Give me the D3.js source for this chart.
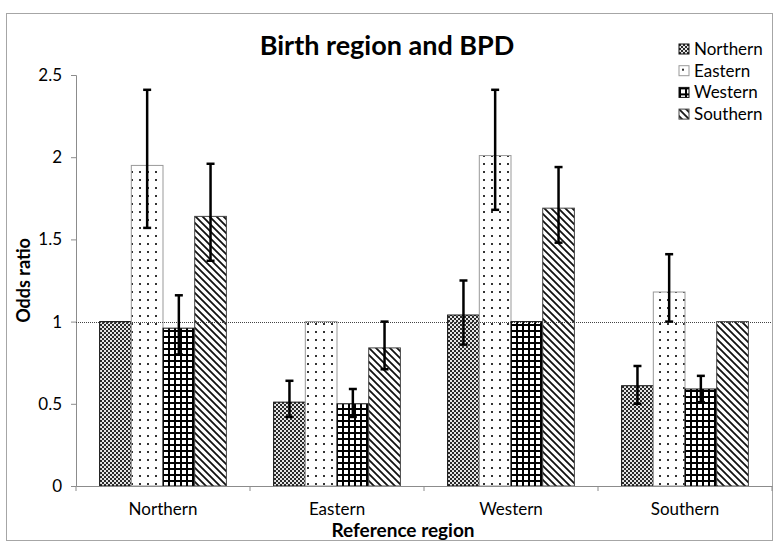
<!DOCTYPE html>
<html>
<head>
<meta charset="utf-8">
<title>Birth region and BPD</title>
<script src="https://d3js.org/d3.v7.min.js"></script>
<style>
  body { margin: 0; background: #fff; }
  text { font-family: Lato, "Open Sans", sans-serif; fill: #000; }
</style>
</head>
<body>
<div id="chart"></div>
<script>
// reference region on the x axis, birth region as the series
var categories = ["Northern", "Eastern", "Western", "Southern"];
var series = ["Northern", "Eastern", "Western", "Southern"];

// odds ratio per series, one value for each reference region
var oddsNorthern = [1.00, 0.51, 1.04, 0.61];
var oddsEastern  = [1.95, 1.00, 2.01, 1.18];
var oddsWestern  = [0.96, 0.50, 1.00, 0.59];
var oddsSouthern = [1.64, 0.84, 1.69, 1.00];

// confidence intervals (null = reference group, no bar)
var lowNorthern  = [null, 0.42, 0.86, 0.50];
var highNorthern = [null, 0.64, 1.25, 0.73];
var lowEastern   = [1.57, null, 1.68, 1.00];
var highEastern  = [2.41, null, 2.41, 1.41];
var lowWestern   = [0.80, 0.42, null, 0.51];
var highWestern  = [1.16, 0.59, null, 0.67];
var lowSouthern  = [1.37, 0.71, 1.48, null];
var highSouthern = [1.96, 1.00, 1.94, null];

var yTicks = [0, 0.5, 1, 1.5, 2, 2.5];

var odds = [oddsNorthern, oddsEastern, oddsWestern, oddsSouthern];
var lows = [lowNorthern, lowEastern, lowWestern, lowSouthern];
var highs = [highNorthern, highEastern, highWestern, highSouthern];

var rows = [];
categories.forEach(function(c, ci) {
    series.forEach(function(s, si) {
        rows.push({cat: c, ser: s, si: si, value: odds[si][ci], low: lows[si][ci], high: highs[si][ci]});
    });
});

var width = 775, height = 542;
var svg = d3.select("#chart").append("svg")
    .attr("width", width)
    .attr("height", height);

// patterns
var defs = svg.append("defs");

var p0 = defs.append("pattern").attr("id", "pat0").attr("patternUnits", "userSpaceOnUse")
    .attr("width", 4).attr("height", 4);
p0.append("rect").attr("width", 4).attr("height", 4).attr("fill", "#e6e6e6");
p0.append("rect").attr("width", 2).attr("height", 2).attr("fill", "#2a2a2a");
p0.append("rect").attr("x", 2).attr("y", 2).attr("width", 2).attr("height", 2).attr("fill", "#2a2a2a");

var p1 = defs.append("pattern").attr("id", "pat1").attr("patternUnits", "userSpaceOnUse")
    .attr("width", 8).attr("height", 8);
p1.append("rect").attr("width", 8).attr("height", 8).attr("fill", "#fff");
p1.append("rect").attr("x", 3).attr("y", 3).attr("width", 2).attr("height", 2).attr("fill", "#333");

var p2 = defs.append("pattern").attr("id", "pat2").attr("patternUnits", "userSpaceOnUse")
    .attr("width", 6).attr("height", 6);
p2.append("rect").attr("width", 6).attr("height", 6).attr("fill", "#fff");
p2.append("rect").attr("x", 0).attr("y", 0).attr("width", 2).attr("height", 6).attr("fill", "#000");
p2.append("rect").attr("x", 0).attr("y", 0).attr("width", 6).attr("height", 2).attr("fill", "#000");

var p3 = defs.append("pattern").attr("id", "pat3").attr("patternUnits", "userSpaceOnUse")
    .attr("width", 7).attr("height", 7);
p3.append("rect").attr("width", 7).attr("height", 7).attr("fill", "#fff");
p3.append("path").attr("d", "M-1,-1 L8,8 M-1,6 L1,8 M6,-1 L8,1")
    .attr("stroke", "#111").attr("stroke-width", 1.8);

var fills = ["url(#pat0)", "url(#pat1)", "url(#pat2)", "url(#pat3)"];
var borders = ["#111", "#999", "#111", "#444"];

// outer chart border
svg.append("rect")
    .attr("x", 6.5).attr("y", 13.5)
    .attr("width", 766).attr("height", 527)
    .attr("fill", "none").attr("stroke", "#a6a6a6");

var plotLeft = 76, plotRight = 772, plotTop = 75, plotBottom = 486;

var x0 = d3.scaleBand().domain(categories).range([plotLeft, plotRight]).paddingInner(0).paddingOuter(0);
var x1 = d3.scaleBand().domain(series).range([0, x0.bandwidth()]).paddingOuter(0.745).paddingInner(0);
var y = d3.scaleLinear().domain([0, 2.5]).range([plotBottom, plotTop]);

// bars
var bars = svg.append("g");
bars.selectAll("rect")
    .data(rows)
    .enter().append("rect")
    .attr("x", function(d) { return x0(d.cat) + x1(d.ser); })
    .attr("y", function(d) { return y(d.value); })
    .attr("width", x1.bandwidth())
    .attr("height", function(d) { return y(0) - y(d.value); })
    .attr("fill", function(d) { return fills[d.si]; })
    .attr("stroke", function(d) { return borders[d.si]; })
    .attr("stroke-width", 1);

// y axis
var yAxis = svg.append("g")
    .attr("transform", "translate(" + plotLeft + ",0)")
    .call(d3.axisLeft(y).tickValues(yTicks).tickSize(5).tickPadding(9)
        .tickFormat(function(d) { return String(d); }));
yAxis.select(".domain").attr("stroke", "#8c8c8c");
yAxis.selectAll(".tick line").attr("stroke", "#8c8c8c");
yAxis.selectAll("text").style("font-size", "17px").style("font-family", "Lato, sans-serif").attr("fill", "#000");

// x axis
var xAxis = svg.append("g")
    .attr("transform", "translate(0," + plotBottom + ")")
    .call(d3.axisBottom(x0).tickSize(0).tickPadding(17));
xAxis.select(".domain").attr("stroke", "#8c8c8c");
xAxis.selectAll("text").style("font-size", "17px").style("font-family", "Lato, sans-serif").attr("fill", "#000");
var boundaries = categories.map(function(c) { return x0(c); }).concat([plotRight]);
svg.append("g").selectAll("line")
    .data(boundaries)
    .enter().append("line")
    .attr("x1", function(d) { return d; }).attr("x2", function(d) { return d; })
    .attr("y1", plotBottom).attr("y2", plotBottom + 5)
    .attr("stroke", "#8c8c8c");

// reference line at 1
svg.append("line")
    .attr("x1", plotLeft).attr("x2", plotRight)
    .attr("y1", Math.round(y(1)) + 0.5).attr("y2", Math.round(y(1)) + 0.5)
    .attr("stroke", "#444").attr("stroke-width", 1)
    .attr("stroke-dasharray", "1,1");

// error bars
var errs = svg.append("g").selectAll("g")
    .data(rows.filter(function(d) { return d.low !== null; }))
    .enter().append("g")
    .attr("transform", function(d) { return "translate(" + (x0(d.cat) + x1(d.ser) + x1.bandwidth() / 2) + ",0)"; });
errs.append("line")
    .attr("y1", function(d) { return y(d.low); })
    .attr("y2", function(d) { return y(d.high); })
    .attr("stroke", "#000").attr("stroke-width", 2.5);
errs.append("line")
    .attr("x1", -4).attr("x2", 4)
    .attr("y1", function(d) { return y(d.high); })
    .attr("y2", function(d) { return y(d.high); })
    .attr("stroke", "#000").attr("stroke-width", 2.5);
errs.append("line")
    .attr("x1", -4).attr("x2", 4)
    .attr("y1", function(d) { return y(d.low); })
    .attr("y2", function(d) { return y(d.low); })
    .attr("stroke", "#000").attr("stroke-width", 2.5);

// title
svg.append("text")
    .attr("x", 387).attr("y", 55)
    .attr("text-anchor", "middle")
    .style("font-size", "27px").style("font-weight", "bold")
    .text("Birth region and BPD");

// axis titles
svg.append("text")
    .attr("transform", "translate(30," + ((plotTop + plotBottom) / 2) + ") rotate(-90)")
    .attr("text-anchor", "middle")
    .style("font-size", "18px").style("font-weight", "bold")
    .text("Odds ratio");

svg.append("text")
    .attr("x", 403).attr("y", 537)
    .attr("text-anchor", "middle")
    .style("font-size", "19px").style("font-weight", "bold")
    .text("Reference region");

// legend
var legend = svg.append("g").selectAll("g")
    .data(series)
    .enter().append("g")
    .attr("transform", function(d, i) { return "translate(679," + (44 + i * 21.7) + ")"; });
legend.append("rect")
    .attr("width", 10).attr("height", 10)
    .attr("fill", function(d, i) { return fills[i]; })
    .attr("stroke", function(d, i) { return borders[i]; });
legend.append("text")
    .attr("x", 15).attr("y", 11)
    .style("font-size", "17px")
    .text(function(d) { return d; });
</script>
</body>
</html>
